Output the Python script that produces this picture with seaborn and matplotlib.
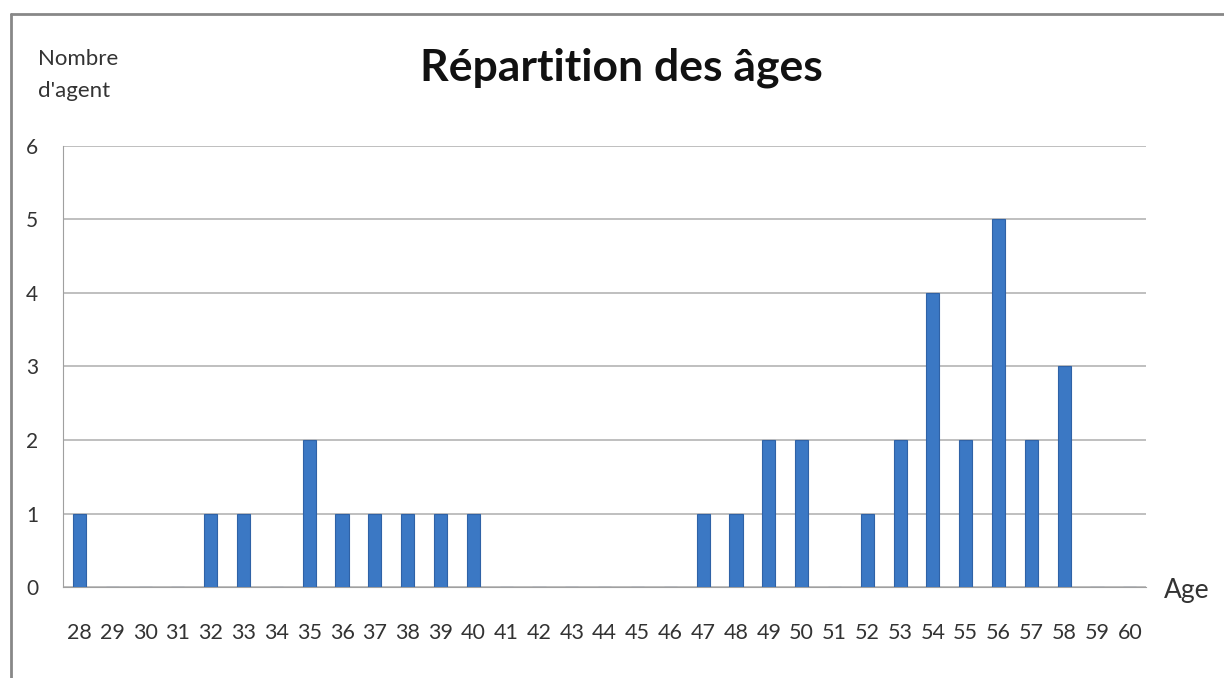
import matplotlib
matplotlib.use('Agg')
import matplotlib.pyplot as plt
import seaborn as sns
import numpy as np
import pandas as pd
from matplotlib.lines import Line2D

ages = list(range(28, 61))
counts = [1, 0, 0, 0, 1, 1, 0, 2, 1, 1, 1, 1, 1, 0, 0, 0, 0, 0, 0, 1,
          1, 2, 2, 0, 1, 2, 4, 2, 5, 2, 3, 0, 0]
yticks = [0, 1, 2, 3, 4, 5, 6]

df = pd.DataFrame({'Age': [str(a) for a in ages], 'Nombre': counts})

sns.set_style('white')
plt.rcParams['font.family'] = ['Lato', 'DejaVu Sans']

fig = plt.figure(figsize=(12.24, 6.78), dpi=100)
ax = fig.add_axes([0.0515, 0.134, 0.885, 0.651])

sns.barplot(data=df, x='Age', y='Nombre', order=[str(a) for a in ages],
            color='#3b78c4', saturation=1, width=0.4, edgecolor='#2f62a6',
            linewidth=0.8, ax=ax, zorder=3)

ax.set_xlim(-0.5, len(ages) - 0.5)
ax.set_ylim(0, 6)
ax.set_yticks(yticks)
ax.set_yticklabels([str(v) for v in yticks], fontsize=15, color='#333333')
ax.tick_params(axis='y', length=8, color='#a0a0a0', pad=10)
ax.tick_params(axis='x', length=0, pad=26, labelsize=15.5, labelcolor='#333333')
ax.set_xticks(np.arange(len(ages)) + 0.5, minor=True)
ax.tick_params(axis='x', which='minor', length=5, color='#b0b0b0')
ax.set_xlabel('')
ax.set_ylabel('')
ax.grid(axis='y', color='#b4b4b4', linewidth=1.2, zorder=0)
ax.set_axisbelow(True)
for s in ['top', 'right']:
    ax.spines[s].set_visible(False)
ax.spines['left'].set_color('#a0a0a0')
ax.spines['bottom'].set_color('#a0a0a0')

fig.text(0.508, 0.9, 'Répartition des âges', ha='center', va='center',
         fontsize=32, fontweight='bold', color='#111111')
fig.text(0.031, 0.889, 'Nombre\nd\'agent', ha='left', va='center',
         fontsize=16, color='#333333', linespacing=1.75)
fig.text(0.951, 0.129, 'Age', ha='left', va='center', fontsize=19,
         color='#333333')

# outer chart frame (left and top)
fig.add_artist(Line2D([0.009, 0.009], [0.0, 0.979], color='#888888', lw=2,
                      transform=fig.transFigure))
fig.add_artist(Line2D([0.009, 1.0], [0.979, 0.979], color='#888888', lw=2,
                      transform=fig.transFigure))

fig.savefig('out.png', dpi=100)
